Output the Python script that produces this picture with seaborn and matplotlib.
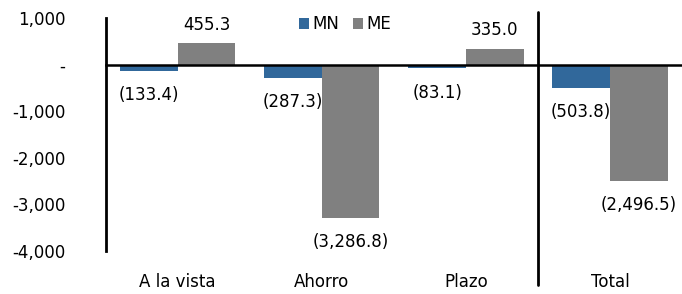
"""Variation of deposits by type and currency (MN vs ME)."""

import matplotlib
matplotlib.use("Agg")
import matplotlib.pyplot as plt
import matplotlib.ticker as mticker
import pandas as pd
import seaborn as sns

categories = ["A la vista", "Ahorro", "Plazo", "Total"]
mn_values = [-133.4, -287.3, -83.1, -503.8]
me_values = [455.3, -3286.8, 335.0, -2496.5]
series_names = ["MN", "ME"]
y_ticks = [1000, 0, -1000, -2000, -3000, -4000]

COLORS = {"MN": "#31689b", "ME": "#808080"}
FS = 12


def fmt_value(v):
    if v < 0:
        return f"({abs(v):,.1f})"
    return f"{v:,.1f}"


def fmt_tick(v, _pos):
    if v == 0:
        return "-"
    return f"{v:,.0f}"


df = pd.DataFrame({
    "categoria": categories * 2,
    "serie": [series_names[0]] * len(categories) + [series_names[1]] * len(categories),
    "valor": mn_values + me_values,
})

sns.set_style("white")
plt.rcParams["font.family"] = ["DejaVu Sans"]
plt.rcParams["text.color"] = "black"

fig = plt.figure(figsize=(6.82, 2.94), dpi=100)
ax = fig.add_axes([0.155, 0.146, 0.845, 0.793])

sns.barplot(
    data=df, x="categoria", y="valor", hue="serie",
    order=categories, hue_order=series_names, palette=COLORS,
    saturation=1, width=0.8, edgecolor="none", ax=ax,
)

ax.set_xlim(-0.5, len(categories) - 0.5)
ax.set_ylim(min(y_ticks), max(y_ticks))
ax.set_yticks(y_ticks)
ax.yaxis.set_major_formatter(mticker.FuncFormatter(fmt_tick))
ax.set_xlabel("")
ax.set_ylabel("")

# spines: y on the left, x through zero
for side in ["top", "right"]:
    ax.spines[side].set_visible(False)
ax.spines["left"].set_linewidth(2)
ax.spines["left"].set_color("black")
ax.spines["bottom"].set_position(("data", 0))
ax.spines["bottom"].set_linewidth(1.8)
ax.spines["bottom"].set_color("black")

ax.tick_params(axis="y", direction="out", length=4, width=2, pad=25,
               labelsize=FS, colors="black")
ax.tick_params(axis="x", which="major", length=0, pad=150, labelsize=FS,
               labelcolor="black")
ax.set_xticks(range(len(categories)), categories)
ax.xaxis.set_minor_locator(mticker.FixedLocator(
    [i + 0.5 for i in range(len(categories) - 1)]))
ax.tick_params(axis="x", which="minor", direction="inout", length=7, width=2,
               color="black")

# separator before Total
ax.axvline(len(categories) - 1.5, ymin=-0.146, ymax=1.026, color="black",
           linewidth=2, clip_on=False)

# value labels
for container in ax.containers:
    for bar in container:
        h = bar.get_height()
        x = bar.get_x() + bar.get_width() / 2
        offset = -17.5 if h < 0 else 13.5
        ax.annotate(fmt_value(h), (x, h), xytext=(0, offset),
                    textcoords="offset points", ha="center", va="center",
                    fontsize=FS, color="black")

ax.legend(loc="center", bbox_to_anchor=(0.415, 0.972), ncol=2, frameon=False,
          fontsize=FS, handlelength=0.6, handleheight=0.6, handletextpad=0.2,
          columnspacing=0.8, borderpad=0)

fig.savefig("out.png", dpi=100)
plt.close(fig)
